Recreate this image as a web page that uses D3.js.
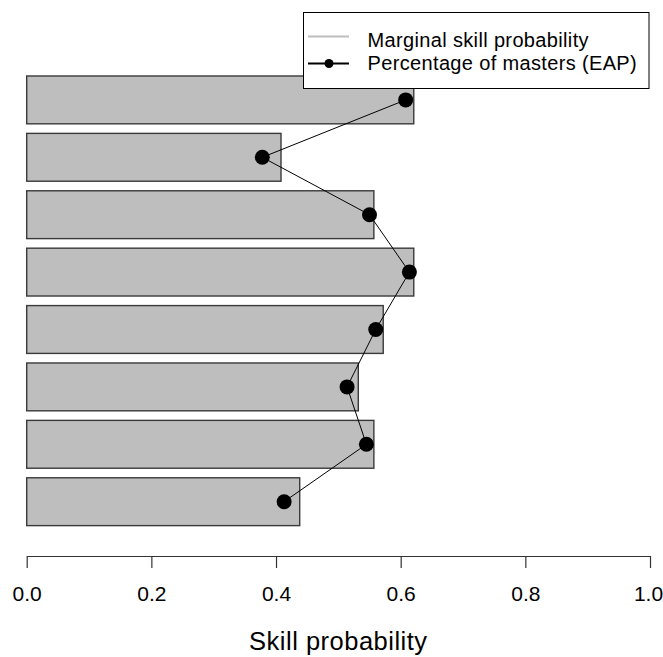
<!DOCTYPE html>
<html>
<head>
<meta charset="utf-8">
<script src="https://cdn.jsdelivr.net/npm/d3@7"></script>
<style>
  html, body { margin: 0; padding: 0; background: #fff; }
  svg { display: block; font-family: "Liberation Sans", Arial, sans-serif; }
</style>
</head>
<body>
<svg id="chart" width="663" height="657"></svg>
<script>
// Data (top bar first)
const skills = ["Skill 1", "Skill 2", "Skill 3", "Skill 4", "Skill 5", "Skill 6", "Skill 7", "Skill 8"];
const marginalProb = [0.621, 0.408, 0.557, 0.621, 0.572, 0.532, 0.557, 0.438];
const mastersEAP = [0.608, 0.378, 0.550, 0.614, 0.560, 0.514, 0.545, 0.413];
const xTicks = [0, 0.2, 0.4, 0.6, 0.8, 1.0];
const legendLabels = ["Marginal skill probability", "Percentage of masters (EAP)"];
const xTitle = "Skill probability";

const svg = d3.select("#chart");

const x = d3.scaleLinear().domain([0, 1]).range([26.7, 650]);
const y = d3.scaleBand().domain(skills).range([71.2, 530.4])
  .paddingInner(0.2 / 1.2).paddingOuter(0.1 / 1.2);

// Bars
svg.append("g").selectAll("rect")
  .data(skills)
  .join("rect")
  .attr("x", x(0))
  .attr("y", d => y(d))
  .attr("width", (d, i) => x(marginalProb[i]) - x(0))
  .attr("height", y.bandwidth())
  .attr("fill", "#bebebe")
  .attr("stroke", "#3a3a3a")
  .attr("stroke-width", 1.4);

// Line
const pts = skills.map((s, i) => [x(mastersEAP[i]), y(s) + y.bandwidth() / 2]);
svg.append("path")
  .attr("d", d3.line()(pts))
  .attr("fill", "none")
  .attr("stroke", "#000")
  .attr("stroke-width", 1);

svg.append("g").selectAll("circle")
  .data(pts)
  .join("circle")
  .attr("cx", d => d[0])
  .attr("cy", d => d[1])
  .attr("r", 7.5)
  .attr("fill", "#000");

// X axis
const axis = d3.axisBottom(x)
  .tickValues(xTicks)
  .tickFormat(d3.format(".1f"))
  .tickSize(12)
  .tickSizeOuter(0)
  .tickPadding(18);
const gx = svg.append("g")
  .attr("transform", "translate(0,556)")
  .call(axis);
gx.select(".domain").attr("stroke", "#333").attr("stroke-width", 1.2);
gx.selectAll(".tick line").attr("stroke", "#333").attr("stroke-width", 1.2);
gx.selectAll(".tick text")
  .attr("fill", "#000")
  .attr("dx", d => d === 1 ? -2 : 0)
  .style("font-size", "21px")
  .style("font-family", "'Liberation Sans', Arial, sans-serif");

svg.append("text")
  .attr("x", (x(0) + x(1)) / 2)
  .attr("y", 650)
  .attr("text-anchor", "middle")
  .style("font-size", "25.5px")
  .style("letter-spacing", "0.5px")
  .text(xTitle);

// Legend
const lg = svg.append("g");
lg.append("rect")
  .attr("x", 303.5).attr("y", 12.5)
  .attr("width", 345.5).attr("height", 76)
  .attr("fill", "#fff")
  .attr("stroke", "#000")
  .attr("stroke-width", 1);

const legendY = [36.5, 63.5];
lg.append("line")
  .attr("x1", 308).attr("x2", 349)
  .attr("y1", legendY[0]).attr("y2", legendY[0])
  .attr("stroke", "#bebebe").attr("stroke-width", 2);
lg.append("line")
  .attr("x1", 308).attr("x2", 349)
  .attr("y1", legendY[1]).attr("y2", legendY[1])
  .attr("stroke", "#000").attr("stroke-width", 2);
lg.append("circle")
  .attr("cx", 329).attr("cy", legendY[1]).attr("r", 4.5)
  .attr("fill", "#000");

lg.selectAll("text.lbl")
  .data(legendLabels)
  .join("text")
  .attr("class", "lbl")
  .attr("x", 367.5)
  .attr("y", (d, i) => [46.7, 70.3][i])
  .style("font-size", "20px")
  .style("letter-spacing", "0.35px")
  .text(d => d);
</script>
</body>
</html>
